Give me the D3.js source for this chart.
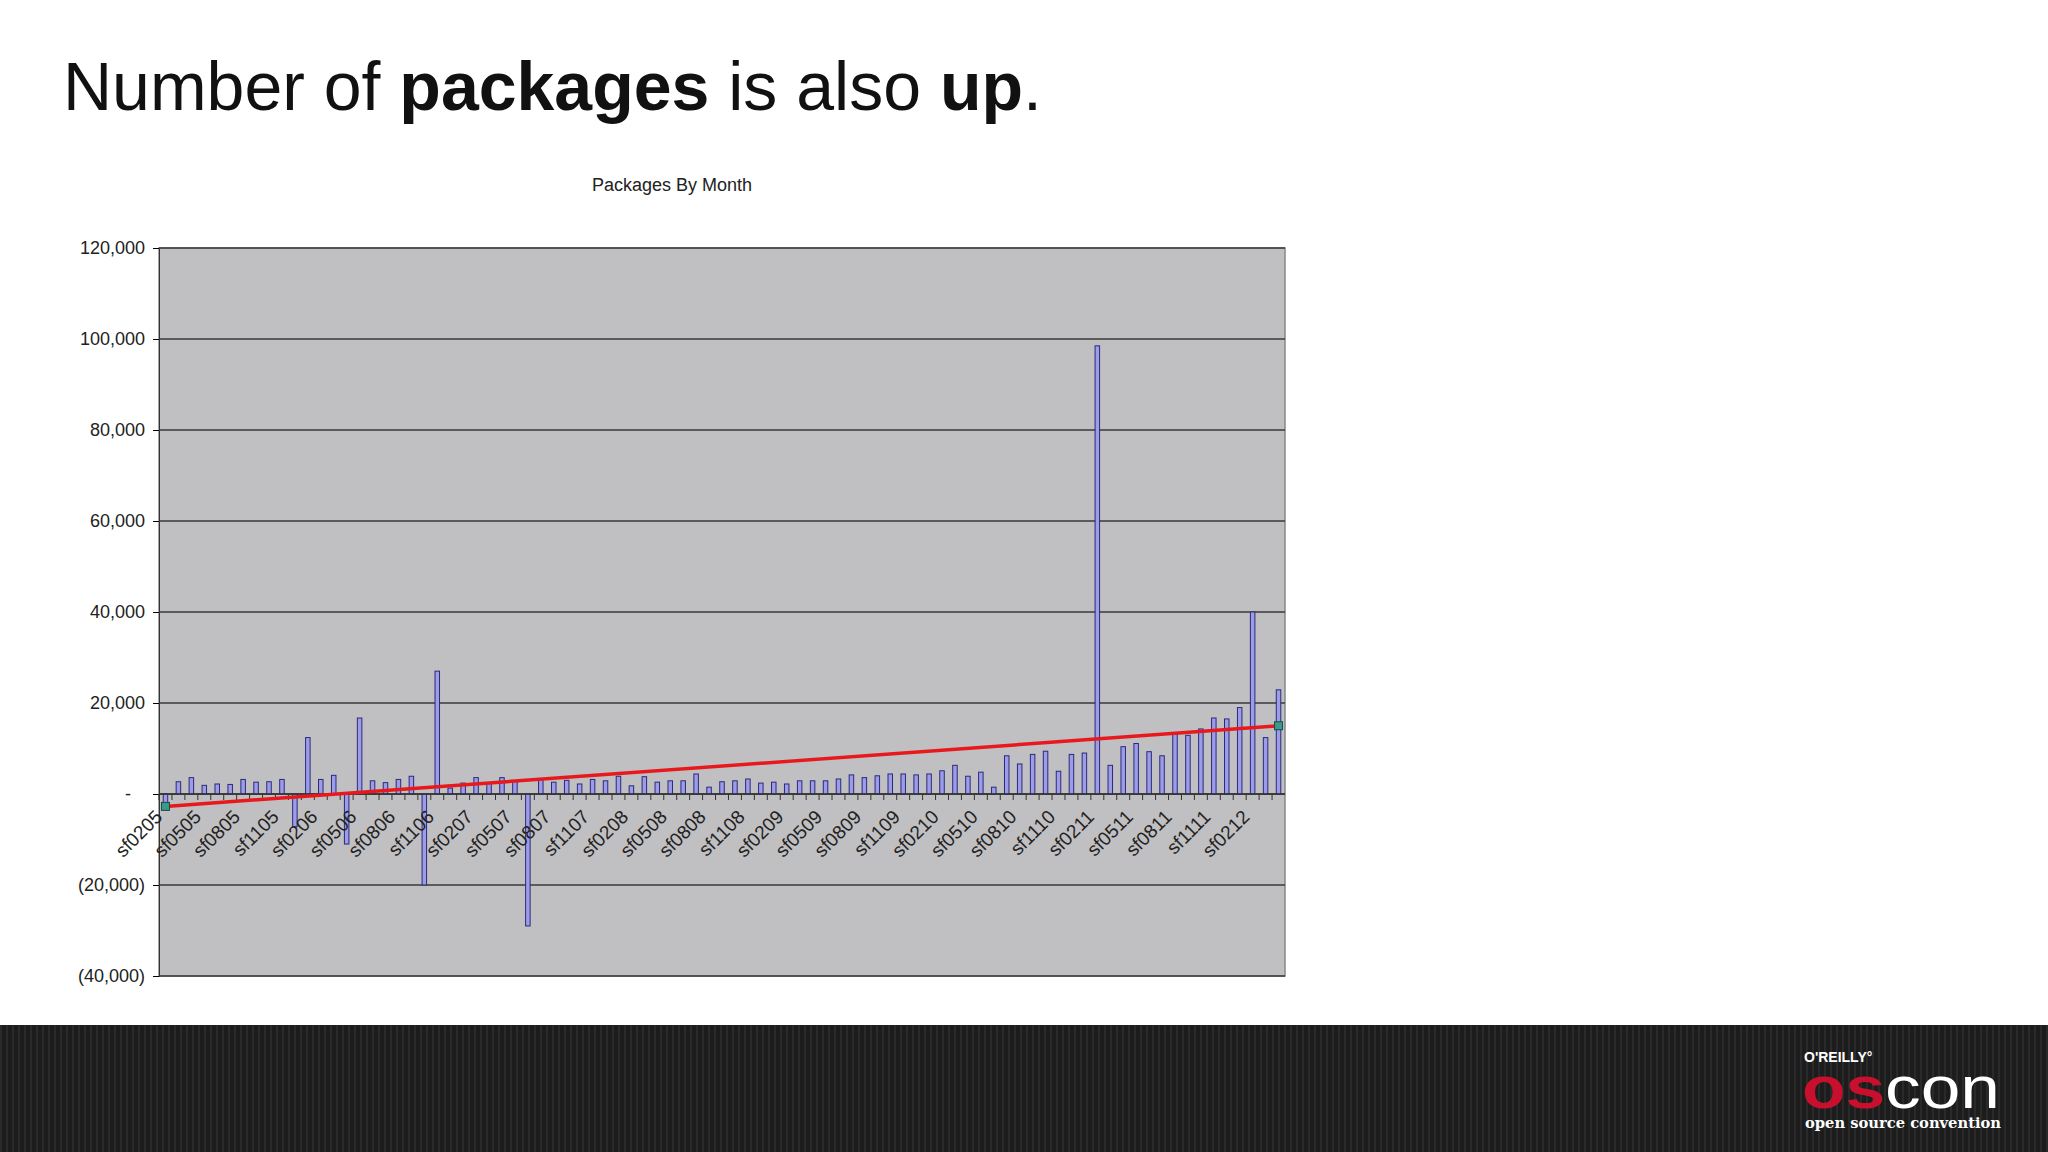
<!DOCTYPE html>
<html><head><meta charset="utf-8">
<script src="https://cdn.jsdelivr.net/npm/d3@7"></script>
<style>body{margin:0;background:#fff}</style>
</head><body>
<svg id="c" width="2048" height="1152"></svg>
<script>
// months from sf0205 to sf0412
var months = [];
(function(){
  var m = 2, y = 5;
  for (var i = 0; i < 87; i++) {
    months.push("sf" + String(m).padStart(2,"0") + String(y).padStart(2,"0"));
    m++; if (m > 12) { m = 1; y++; }
  }
})();
var packages = [-2500,2700,3600,1900,2200,2100,3200,2600,2700,3200,
  -7200,12400,3200,4100,-11000,16700,2900,2500,3200,3900,
  -20000,27000,1300,2400,3600,2300,3600,2800,-29000,3200,
  2600,3000,2200,3200,2900,3900,1800,3800,2600,2900,
  2900,4400,1500,2700,2900,3300,2400,2600,2200,2900,
  2900,2900,3300,4200,3600,4000,4400,4400,4200,4400,
  5100,6300,3900,4800,1500,8400,6600,8700,9400,5000,
  8700,9000,98500,6300,10400,11100,9300,8400,13100,12900,
  14300,16700,16500,19000,40000,12400,22900];
var yTicks = [-40000,-20000,0,20000,40000,60000,80000,100000,120000];

var svg = d3.select("#c");

// footer band with stripes
svg.append("rect").attr("x",0).attr("y",1025).attr("width",2048).attr("height",127).attr("fill","#1c1c1c");
svg.append("g").selectAll("rect").data(d3.range(0,2048,6)).enter().append("rect")
  .attr("x",function(d){return d;}).attr("y",1025).attr("width",2).attr("height",127).attr("fill","#2a2a2a");

//title
var t = svg.append("text").attr("x",63).attr("y",110).attr("font-family","Liberation Sans, Arial").attr("font-size",68).attr("fill","#111");
t.append("tspan").text("Number of ");
t.append("tspan").attr("font-weight","bold").text("packages");
t.append("tspan").text(" is also ");
t.append("tspan").attr("font-weight","bold").text("up");
t.append("tspan").text(".");

var L = 159, R = 1285, T = 248, B = 976;
var x = d3.scaleBand().domain(months).range([L,R]);
var y = d3.scaleLinear().domain([-40000,120000]).range([B,T]);

svg.append("text").attr("x",672).attr("y",191).attr("text-anchor","middle")
  .attr("font-family","Liberation Sans, Arial").attr("font-size",18).attr("fill","#222").text("Packages By Month");

svg.append("rect").attr("x",L).attr("y",T).attr("width",R-L).attr("height",B-T)
  .attr("fill","#c0bfc1").attr("stroke","#888").attr("stroke-width",1.5);

// gridlines
svg.append("g").selectAll("line").data(yTicks).enter().append("line")
  .attr("x1",L).attr("x2",R).attr("y1",function(d){return y(d);}).attr("y2",function(d){return y(d);})
  .attr("stroke","#3a3a3a").attr("stroke-width",1.5);

var fmt = function(d){
  if (d === 0) return "-";
  var s = d3.format(",")(Math.abs(d));
  return d < 0 ? "(" + s + ")" : s;
};
var yAxis = svg.append("g").attr("transform","translate("+L+",0)")
  .call(d3.axisLeft(y).tickValues(yTicks).tickFormat(fmt).tickSize(6).tickPadding(8));
yAxis.select(".domain").attr("stroke","#333");
yAxis.selectAll("text").attr("font-family","Liberation Sans, Arial").attr("font-size",18).attr("fill","#222");
yAxis.selectAll(".tick text").filter(function(d){return d===0;}).attr("dx",-14);

// bars
var bw = 4.5;
svg.append("g").selectAll("rect").data(packages).enter().append("rect")
  .attr("x",function(d,i){return x(months[i]) + x.bandwidth()/2 - bw/2;})
  .attr("y",function(d){return y(Math.max(0,d));})
  .attr("width",bw)
  .attr("height",function(d){return Math.abs(y(d)-y(0));})
  .attr("fill","#9c9ce8").attr("stroke","#2a2a7a").attr("stroke-width",1);

// zero axis with ticks
svg.append("line").attr("x1",L).attr("x2",R).attr("y1",y(0)).attr("y2",y(0)).attr("stroke","#333").attr("stroke-width",1.5);
svg.append("g").selectAll("line").data(months).enter().append("line")
  .attr("x1",function(d){return x(d);}).attr("x2",function(d){return x(d);})
  .attr("y1",y(0)).attr("y2",y(0)+6).attr("stroke","#333");

svg.append("g").selectAll("text").data(months.filter(function(d,i){return i%3===0;})).enter().append("text")
  .attr("transform",function(d){return "translate("+(x(d)+x.bandwidth()/2-2)+","+(y(0)+24)+") rotate(-45)";})
  .attr("text-anchor","end").attr("font-family","Liberation Sans, Arial").attr("font-size",19).attr("fill","#222")
  .text(function(d){return d;});

// linear trend from the data
var n = packages.length, xs = d3.range(n);
var mx = d3.mean(xs), my = d3.mean(packages);
var slope = d3.sum(xs,function(i){return (i-mx)*(packages[i]-my);}) / d3.sum(xs,function(i){return (i-mx)*(i-mx);});
var icpt = my - slope*mx;
var tx = function(i){return x(months[i]) + x.bandwidth()/2;};
svg.append("line").attr("x1",tx(0)).attr("y1",y(icpt)).attr("x2",tx(n-1)).attr("y2",y(icpt+slope*(n-1)))
  .attr("stroke","#e8191c").attr("stroke-width",3.5);
svg.append("g").selectAll("rect").data([0,n-1]).enter().append("rect")
  .attr("x",function(i){return tx(i)-4;}).attr("y",function(i){return y(icpt+slope*i)-4;})
  .attr("width",8).attr("height",8).attr("fill","#3a9a8a").attr("stroke","#1a4a4a");

// logo
var lg = svg.append("g").attr("font-family","Liberation Sans, Arial");
lg.append("text").attr("x",1804).attr("y",1062).attr("font-size",14).attr("font-weight","bold").attr("fill","#fff").text("O'REILLY\u00b0");
var o = lg.append("text").attr("x",1802).attr("y",1108).attr("font-size",60).attr("textLength",198).attr("lengthAdjust","spacingAndGlyphs");
o.append("tspan").attr("fill","#c8102e").attr("font-weight","bold").text("os");
o.append("tspan").attr("fill","#fff").text("con");
lg.append("text").attr("x",1805).attr("y",1128).attr("font-size",14).attr("font-weight","bold").attr("font-family","DejaVu Serif")
  .attr("textLength",196).attr("lengthAdjust","spacingAndGlyphs").attr("fill","#fff").text("open source convention");
</script>
</body></html>
